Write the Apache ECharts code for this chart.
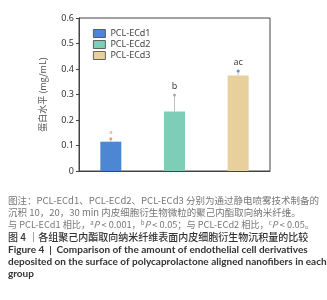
<!DOCTYPE html>
<html><head><meta charset="utf-8">
<script src="https://cdn.jsdelivr.net/npm/echarts@6/dist/echarts.min.js"></script>
<style>html,body{margin:0;padding:0;background:#fff}#c{width:327px;height:300px}</style>
</head><body><div id="c"></div>
<script>
var groups = ['PCL-ECd1', 'PCL-ECd2', 'PCL-ECd3'];
var means = [0.115, 0.233, 0.375];
var upper = [0.126, 0.298, 0.392];
var sigLabels = ['a', 'b', 'ac'];
var yTicks = [0, 0.1, 0.2, 0.3, 0.4, 0.5, 0.6];
var colors = ['#4d87d4', '#7ecdb6', '#e8d09c'];

var chart = echarts.init(document.getElementById('c'), null, {renderer: 'canvas'});
var series = groups.map(function (g, i) {
  return {
    name: g, type: 'bar', barWidth: 21, barGap: '-100%',
    itemStyle: {color: colors[i]},
    data: groups.map(function (_, j) { return j === i ? means[i] : '-'; }),
    z: 2
  };
});
series.push({
  type: 'custom', z: 3,
  data: groups.map(function (g, i) { return [i, means[i], upper[i]]; }),
  renderItem: function (params, api) {
    var i = api.value(0);
    var p0 = api.coord([i, api.value(1)]);
    var p1 = api.coord([i, api.value(2)]);
    return {type: 'group', children: [
      {type: 'line', shape: {x1: p0[0], y1: p0[1], x2: p1[0], y2: p1[1]},
        style: {stroke: '#c0c0c0', lineWidth: 1}},
      {type: 'circle', shape: {cx: p1[0], cy: p1[1], r: 1.5},
        style: {fill: i === 0 ? '#d9a07a' : (i === 2 ? '#6b8fc0' : '#aaaaaa')}},
      {type: 'text', x: p1[0], y: p1[1] - 4,
        style: {text: sigLabels[i], fill: i === 0 ? '#d39a74' : '#444', font: (i === 0 ? '6px' : '9px') + ' "Noto Sans"', align: 'center', verticalAlign: 'bottom'}}
    ]};
  }
});

var capGray = '#777';
function line(y, text, rich, font, fill) {
  return {type: 'text', left: 8, top: y, style: {text: text, font: font, fill: fill, rich: rich}};
}
var richSmall = {
  s: {fontSize: 6, verticalAlign: 'top', fill: capGray, padding: [0, 0, 4, 0], fontFamily: 'Noto Sans CJK SC'},
  i: {fontStyle: 'italic', fontSize: 9.2, fill: capGray, fontFamily: 'Noto Sans CJK SC'}
};

chart.setOption({
  animation: false,
  grid: {left: 79, top: 18, right: 57, bottom: 129, show: true, borderColor: '#444', borderWidth: 1, backgroundColor: 'transparent'},
  legend: {
    orient: 'vertical', left: 88, top: 24, itemWidth: 12, itemHeight: 8, itemGap: 2,
    data: groups, icon: 'rect',
    itemStyle: {borderColor: '#444', borderWidth: 0.8},
    textStyle: {fontSize: 9, color: '#444', fontFamily: 'Noto Sans'}
  },
  xAxis: {type: 'category', data: groups, axisLabel: {show: false}, axisTick: {show: false},
    axisLine: {lineStyle: {color: '#444', width: 1}}},
  yAxis: {type: 'value', min: 0, max: 0.6, interval: 0.1,
    name: '蛋白水平 (mg/mL)', nameLocation: 'middle', nameGap: 32,
    nameTextStyle: {fontSize: 9, color: '#555', fontFamily: 'Noto Sans CJK SC'},
    axisLine: {show: true, lineStyle: {color: '#444'}},
    axisTick: {show: true, length: 3, lineStyle: {color: '#444'}},
    splitLine: {show: false},
    axisLabel: {fontSize: 9, color: '#333', margin: 5, fontFamily: 'Noto Sans',
      formatter: function (v) { var t = yTicks.indexOf(Math.round(v * 10) / 10); return t === 0 ? '0' : String(yTicks[t]); }}
  },
  series: series,
  graphic: [
    line(196, '图注：PCL-ECd1、PCL-ECd2、PCL-ECd3 分别为通过静电喷雾技术制备的', null, '9.5px "Noto Sans CJK SC"', capGray),
    line(208, '沉积 10，20，30 min 内皮细胞衍生物微粒的聚己内酯取向纳米纤维。', null, '9.5px "Noto Sans CJK SC"', capGray),
    line(220, '与 PCL-ECd1 相比，{s|a}{i|P} < 0.001，{s|b}{i|P} < 0.05；与 PCL-ECd2 相比，{s|c}{i|P} < 0.05。', richSmall, '9.2px "Noto Sans CJK SC"', capGray),
    line(232, '图 4 ｜各组聚己内酯取向纳米纤维表面内皮细胞衍生物沉积量的比较', null, '500 10px "Noto Sans CJK SC"', '#333'),
    line(245, 'Figure 4  |  Comparison of the amount of endothelial cell derivatives', null, 'bold 10px Lato', '#333'),
    line(257, 'deposited on the surface of polycaprolactone aligned nanofibers in each', null, 'bold 10px Lato', '#333'),
    line(269, 'group', null, 'bold 10px Lato', '#333')
  ]
});
</script></body></html>
